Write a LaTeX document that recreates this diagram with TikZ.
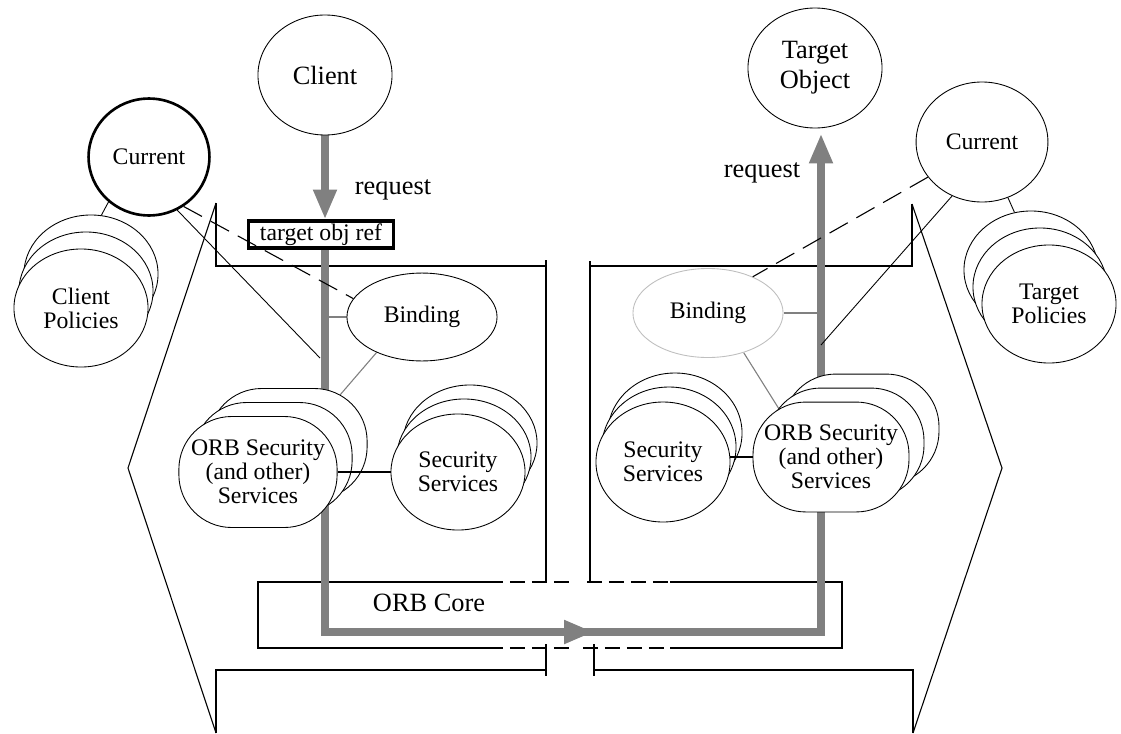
\documentclass[tikz,border=0pt]{standalone}
\usepackage{fontspec}
\setmainfont{Liberation Serif}
\usepackage{tikz}
\usetikzlibrary{shapes.geometric, arrows.meta, calc, backgrounds, positioning}

\newcommand{\nodefont}{\fontsize{10.8}{11}\selectfont}
\newcommand{\bigfont}{\fontsize{12}{13.6}\selectfont}

\begin{document}
\begin{tikzpicture}[
    x=0.455pt, y=-0.455pt,
    every node/.style={font=\nodefont, align=center},
    bubble/.style={ellipse, draw, fill=white, inner sep=0pt, minimum width=61pt, minimum height=54.6pt},
    orbbox/.style={rectangle, rounded corners=24pt, draw, fill=white, inner sep=0pt, minimum width=72pt, minimum height=50.5pt},
    refbox/.style={rectangle, draw, line width=1.4pt, fill=white, inner sep=0pt, minimum width=66pt, minimum height=12.3pt},
    frame/.style={line width=0.9pt},
    bracket/.style={line width=0.5pt},
    wire/.style={line width=0.4pt},
    greywire/.style={gray, line width=0.5pt},
    dashwire/.style={line width=0.5pt, dash pattern=on 9.5pt off 4.5pt},
    coredash/.style={line width=0.9pt, dash pattern=on 6.8pt off 3.2pt},
    flow/.style={gray, line width=3.6pt, -{Triangle[width=10pt, length=13.6pt]}}
]
\useasboundingbox (0,0) rectangle (1121,733);

% client side and target side frames
\begin{scope}[on background layer]
\draw[frame] (216,203) -- (216,266) -- (546,266);
\draw[frame] (546,260) -- (546,582);
\draw[frame] (912,204) -- (912,266) -- (590,266);
\draw[frame] (590,261) -- (590,582);
\draw[bracket] (216,203) -- (128,468) -- (216,733);
\draw[bracket] (912,204) -- (1002,468) -- (913,733);
\draw[frame] (216,733) -- (216,670) -- (546,670);
\draw[frame] (546,644) -- (546,676);
\draw[frame] (913,733) -- (913,670) -- (594,670);
\draw[frame] (594,644) -- (594,676);
% ORB core
\draw[frame] (488,582) -- (258,582) -- (258,648) -- (488,648);
\draw[frame] (670,582) -- (842,582) -- (842,648) -- (670,648);
\draw[coredash] (488,582) -- (572,582) (587,582) -- (670,582);
\draw[coredash] (488,648) -- (570,648) (583,648) -- (670,648);
\end{scope}

% objects
\node[bubble, font=\bigfont] (client) at (325,75) {Client};
\node[bubble, font=\bigfont] (target) at (815,68) {Target\\Object};
\node[bubble, line width=1.2pt, minimum width=55pt, minimum height=53.2pt] (curL) at (149,157) {Current};
\node[bubble, minimum width=60pt] (curR) at (982,142) {Current};

% policies
\node[bubble, minimum height=53.7pt] (cpol3) at (91,274) {};
\node[bubble, minimum height=53.7pt] (cpol2) at (86,291) {};
\node[bubble, minimum height=53.7pt] (cpol) at (81,308) {Client\\Policies};
\node[bubble, minimum height=53.7pt] (tpol3) at (1031,270) {};
\node[bubble, minimum height=53.7pt] (tpol2) at (1040,287) {};
\node[bubble, minimum height=53.7pt] (tpol) at (1049,304) {Target\\Policies};

\node[refbox] (objref) at (321,234.5) {target obj ref};
\node[bubble, minimum width=68.3pt, minimum height=40pt] (bindL) at (422,317) {Binding};
\node[bubble, draw=black!25, minimum width=68.3pt, minimum height=40.5pt] (bindR) at (708,313) {Binding};

% services
\node[orbbox] (orbL3) at (288,444) {};
\node[orbbox] (orbL2) at (273,458) {};
\node[orbbox] (orbL) at (258,472) {ORB Security\\(and other)\\Services};
\node[bubble, minimum height=52.8pt] (secL3) at (470,443) {};
\node[bubble, minimum height=52.8pt] (secL2) at (464,457) {};
\node[bubble, minimum height=52.8pt] (secL) at (458,472) {Security\\Services};
\node[bubble] (secR3) at (675,433) {};
\node[bubble] (secR2) at (669,447) {};
\node[bubble] (secR) at (663,462) {Security\\Services};
\node[orbbox, minimum width=71pt, minimum height=50pt] (orbR3) at (861,429) {};
\node[orbbox, minimum width=71pt, minimum height=50pt] (orbR2) at (846,443) {};
\node[orbbox, minimum width=71pt, minimum height=50pt] (orbR) at (831,457) {ORB Security\\(and other)\\Services};

\node[font=\bigfont] (reqL) at (393,190) {request};
\node[font=\bigfont] (reqR) at (762,173) {request};
\node[font=\bigfont] (core) at (429,603) {ORB Core};

\coordinate (coremid) at (594,632);
\coordinate (corein) at (576,632);
\coordinate (coreR) at (821,632);
\coordinate (hitL) at (320,358);
\coordinate (hitR) at (821,345);

% request path
\begin{scope}[on background layer]
\draw[greywire] (bindL.west) -- (bindL.west -| client.south);
\draw[greywire] (bindL.218) -- ($(orbL.north east)!.5!(orbL.center)$);
\draw[greywire] (bindR.east) -- (bindR.east -| coreR);
\draw[greywire] (bindR.312) -- ($(orbR.north west)!.5!(orbR.center)$);
\draw[flow] (client.south) -- (client.south |- objref.north);
\draw[flow] (client.south |- objref.south) |- (coremid);
\draw[flow, shorten >=2.3pt] (corein) -| (target.south -| coreR);
\end{scope}

\draw[dashwire] (curL.305) -- (bindL.165);
\draw[dashwire] (curR.213) -- (bindR.39);
\draw[wire] (curL.228) -- (cpol3.80);
\draw[wire] (curL.298) -- (hitL);
\draw[wire] (curR.295) -- (tpol3.106);
\draw[wire] (curR.241) -- (hitR);
\draw[frame] (orbL.east) -- (secL.west);
\draw[frame] (orbR.west) -- (orbR.west -| secR.east);
\end{tikzpicture}
\end{document}
